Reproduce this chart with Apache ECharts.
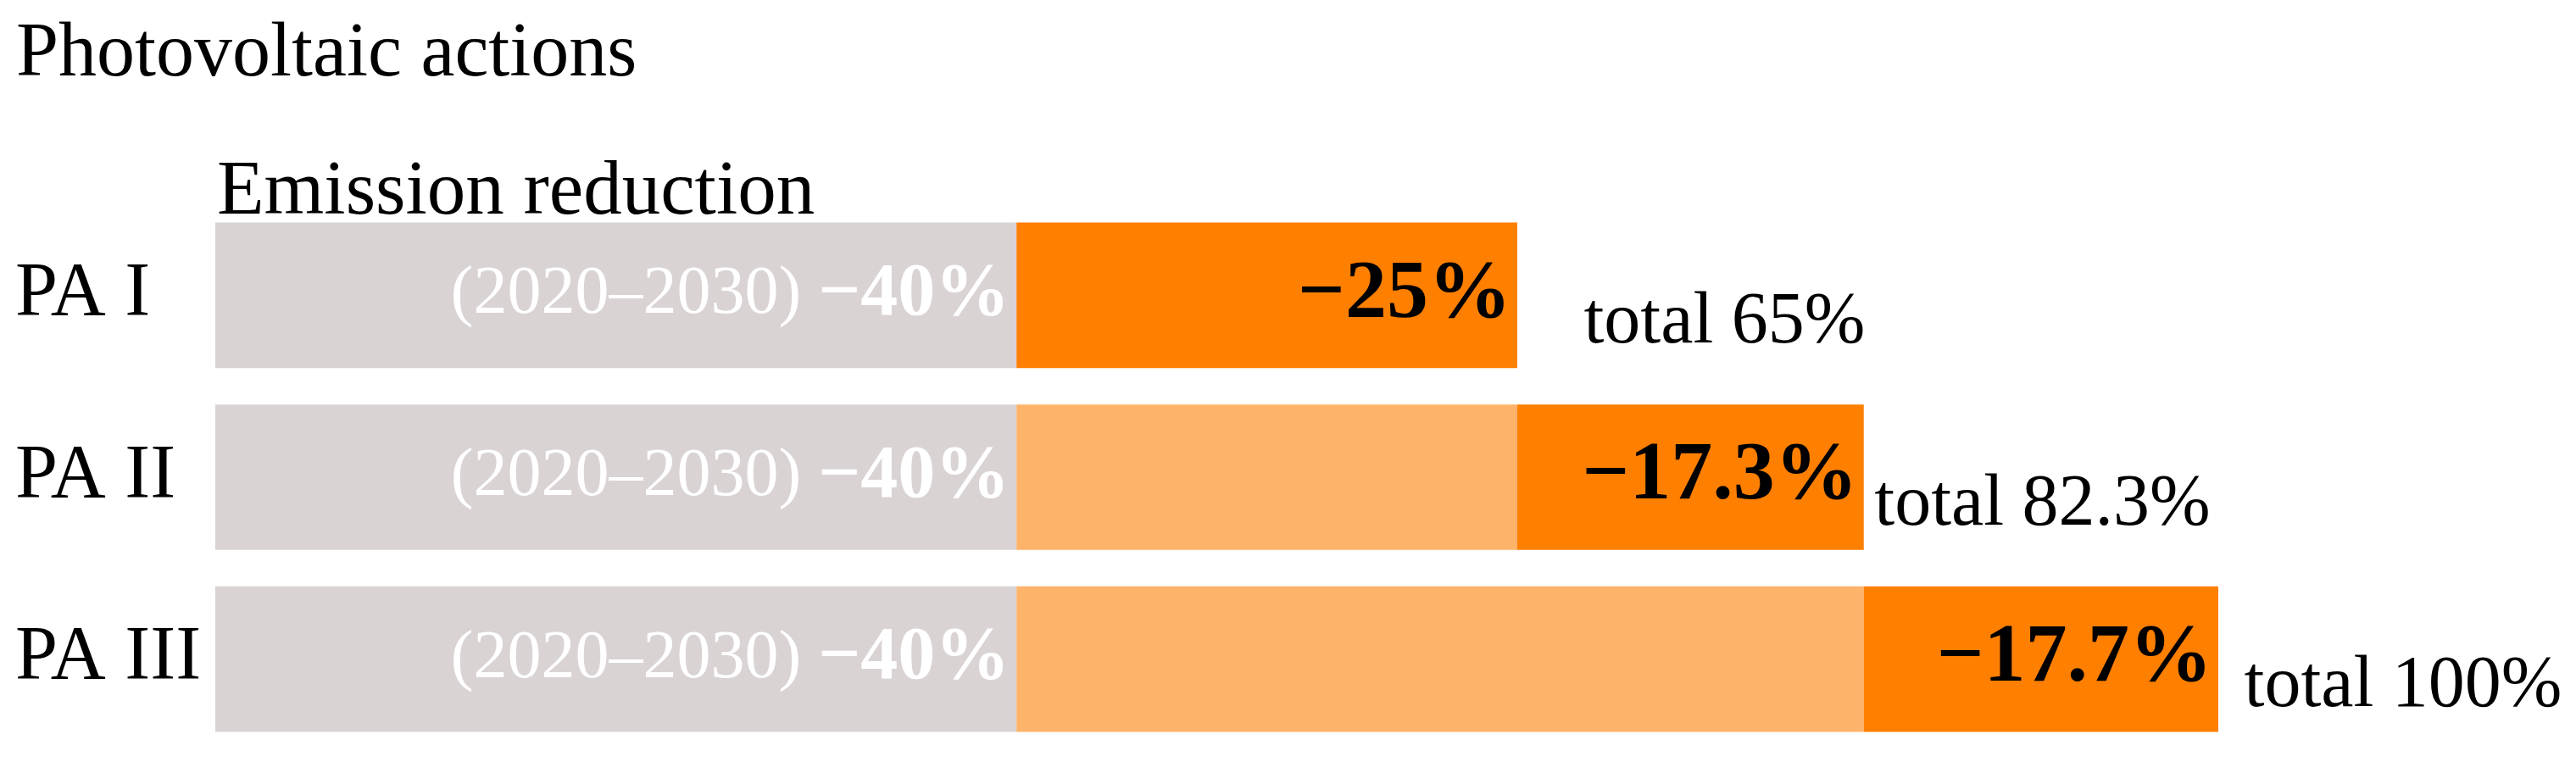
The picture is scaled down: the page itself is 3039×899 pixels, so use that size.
<!DOCTYPE html>
<html>
<head>
<meta charset="utf-8">
<title>Photovoltaic actions</title>
<script src="https://cdn.jsdelivr.net/npm/echarts@6/dist/echarts.min.js"></script>
<style>
  html, body { margin: 0; padding: 0; background: #fff; }
  #main { width: 3039px; height: 899px; }
</style>
</head>
<body>
<div id="main"></div>
<script>
// actions, top to bottom
const categories = ['PA I', 'PA II', 'PA III'];
// reduction 2020-2030 (%)
const baseCut = [40, 40, 40];
// reduction already reached by the earlier actions (%)
const earlierCut = [0, 25, 42.3];
// reduction added by this action (%)
const newCut = [25, 17.3, 17.7];
// totals written next to the bars (%)
const totals = [65, 82.3, 100];
const basePeriod = '(2020–2030)';

// label shift for the totals (px), not data
const totalShift = [78, 12, 30];

const serif = 'Liberation Serif';

let chart = echarts.init(document.getElementById('main'));
chart.setOption({
  animation: false,
  backgroundColor: '#fff',
  textStyle: { fontFamily: serif },
  title: [
    {
      text: 'Photovoltaic actions',
      left: 19, top: 20, padding: 0,
      textStyle: { fontFamily: serif, fontSize: 90, fontWeight: 'normal', color: '#000' }
    },
    {
      text: 'Emission reduction',
      left: 256, top: 183, padding: 0,
      textStyle: { fontFamily: serif, fontSize: 91, fontWeight: 'normal', color: '#000' }
    }
  ],
  grid: { left: 254, right: 422, top: 241, bottom: 14, containLabel: false },
  xAxis: {
    type: 'value',
    min: 0, max: 100,
    show: false
  },
  yAxis: {
    type: 'category',
    data: categories,
    inverse: true,
    axisLine: { show: false },
    axisTick: { show: false },
    axisLabel: {
      align: 'left',
      margin: 236,
      fontFamily: serif,
      fontSize: 90,
      color: '#000',
      padding: [14, 0, 0, 0]
    }
  },
  series: [
    {
      name: 'base',
      type: 'bar',
      stack: 'cut',
      barWidth: '80%',
      data: baseCut,
      itemStyle: { color: '#dad3d4' },
      label: {
        show: true,
        position: 'insideRight',
        distance: 8,
        formatter: p => '{p|' + basePeriod + '\u00a0}{b|−' + p.value + '%}',
        rich: {
          p: { fontFamily: serif, fontSize: 80, color: '#fff' },
          b: { fontFamily: serif, fontSize: 88, fontWeight: 'bold', color: '#fff' }
        }
      }
    },
    {
      name: 'earlier',
      type: 'bar',
      stack: 'cut',
      data: earlierCut,
      itemStyle: { color: '#fdb36a' }
    },
    {
      name: 'new',
      type: 'bar',
      stack: 'cut',
      data: newCut,
      itemStyle: { color: '#ff7f00' },
      label: {
        show: true,
        position: 'insideRight',
        distance: 7,
        formatter: p => '−' + p.value + '%',
        fontFamily: serif,
        fontSize: 98,
        fontWeight: 'bold',
        color: '#000'
      }
    },
    {
      name: 'total',
      type: 'scatter',
      symbolSize: 1,
      itemStyle: { color: 'rgba(0,0,0,0)', opacity: 1 },
      data: totals.map((t, i) => [t, categories[i]]),
      label: {
        show: true,
        position: 'right',
        distance: 0,
        formatter: p => 'total ' + p.value[0] + '%',
        fontFamily: serif,
        fontSize: 86,
        color: '#000'
      },
      labelLayout: p => ({ dx: totalShift[p.dataIndex], dy: 33, hideOverlap: false }),
      z: 5
    }
  ]
});
</script>
</body>
</html>
